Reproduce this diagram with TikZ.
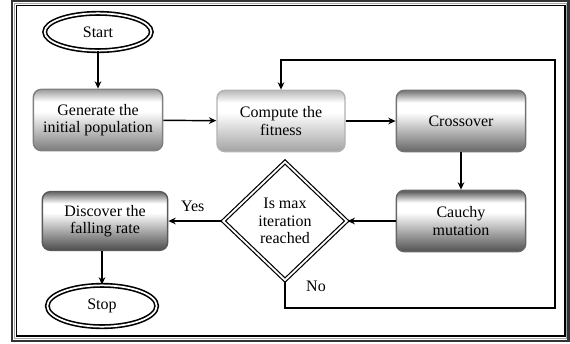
\documentclass[tikz,border=0pt]{standalone}
\usepackage{fontspec}
\setmainfont{Liberation Serif}
\usetikzlibrary{arrows.meta,shapes.geometric}

\colorlet{boxtop}{black!40}
\colorlet{boxbot}{black!50}
\pgfdeclareverticalshading[boxtop,boxbot]{boxgrad}{100bp}{color(0bp)=(boxbot); color(26bp)=(boxbot);
  color(57bp)=(white); color(65bp)=(white); color(74bp)=(boxtop); color(100bp)=(boxtop)}

\tikzset{
  procbox/.style={rectangle,rounded corners=6pt,align=center,line width=1.1pt,
    minimum width=97pt,minimum height=46pt,inner sep=2pt},
  boxshade/.style 2 args={/utils/exec={\colorlet{boxtop}{#1}\colorlet{boxbot}{#2}},shading=boxgrad},
  termnode/.style={ellipse,draw,double,line width=1.2pt,double distance=1.3pt,
    minimum width=80pt,minimum height=28pt,inner sep=1pt},
  decnode/.style={diamond,draw,double,line width=0.9pt,double distance=1.4pt,
    aspect=1.05,minimum width=93pt,minimum height=89pt,inner sep=0pt,align=center},
  flow/.style={->,line width=1.1pt}
}

\begin{document}
\begin{tikzpicture}[x=0.75pt,y=-0.75pt,>={Stealth[length=5.5pt,width=5pt]},
  font=\rmfamily\fontsize{12}{13}\selectfont,line cap=butt]
\useasboundingbox (0,0) rectangle (570,343);
% frame
\draw[black!80,line width=1.9pt] (12.2,1) rectangle (568.5,341);
\draw[black!35,line width=0.9pt] (14.4,3.3) rectangle (566.5,338.5);
\draw[black,line width=1.1pt] (16.5,5.5) rectangle (564.8,336);
% nodes
\node[termnode] (start) at (98,32) {Start};
\node[procbox,draw=black!50,boxshade={black!35}{black!50}] (gen) at (98,120) {Generate the\\initial population};
\node[procbox,draw=black!30,boxshade={black!25}{black!35},minimum width=96pt] (comp) at (281,121) {Compute the\\fitness};
\node[procbox,draw=black!55,boxshade={black!50}{black!58}] (cross) at (461,121) {Crossover};
\node[procbox,draw=black!60,boxshade={black!62}{black!66}] (cauchy) at (461,221) {Cauchy\\mutation};
\node[decnode] (dec) at (285,221) {Is max\\iteration\\reached};
\node[procbox,draw=black!65,boxshade={black!55}{black!68},minimum width=94pt,minimum height=44pt] (disc) at (105,221) {Discover the\\falling rate};
\node[termnode,minimum width=82pt,minimum height=31pt] (stop) at (102,306) {Stop};
\coordinate (loopbr) at (555,308);
\coordinate (looptr) at (555,60);
% connectors
\draw[flow] (start) -- (gen);
\draw[flow] (gen) -- (comp);
\draw[flow] (comp) -- (cross);
\draw[flow] (cross) -- (cauchy);
\draw[flow] (cauchy) -- (dec);
\draw[flow] (dec) -- node[above=3pt,pos=0.55]{Yes} (disc);
\draw[flow] (disc.south -| stop.north) -- (stop);
\draw[flow] (dec.south) |- (loopbr) -- (looptr) -| (comp.north);
\node (nolbl) at (316,286) {No};
\end{tikzpicture}
\end{document}
